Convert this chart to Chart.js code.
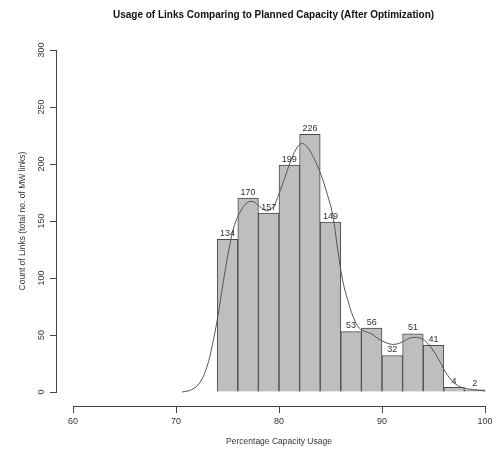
<!DOCTYPE html>
<html>
<head>
<meta charset="utf-8">
<script src="https://cdn.jsdelivr.net/npm/chart.js@4"></script>
<style>
body{margin:0;background:#fff}
#wrap{width:498px;height:449px}
</style>
</head>
<body>
<div id="wrap"><canvas id="myChart"></canvas></div>
<script>
const binStarts = [74, 76, 78, 80, 82, 84, 86, 88, 90, 92, 94, 96, 98];
const binCounts = [134, 170, 157, 199, 226, 149, 53, 56, 32, 51, 41, 4, 2];
const binWidth = 2;
const densityX = [70.6, 71.5, 72.3, 73.0, 73.5, 74.0, 74.6, 75.2, 75.7, 76.3, 76.9, 77.5, 78.1, 78.8, 79.4, 80.0, 80.6, 81.2, 81.8, 82.3, 82.9, 83.5, 84.1, 84.7, 85.2, 85.7, 86.2, 86.7, 87.2, 87.8, 88.4, 89.0, 89.6, 90.2, 90.8, 91.4, 92.0, 92.6, 93.2, 93.8, 94.4, 95.0, 95.6, 96.2, 96.9, 97.5, 98.2, 99.0, 100.0];
const densityY = [0, 2, 8, 22, 40, 63, 97, 128, 147, 159, 166, 167, 163, 159, 162, 174, 189, 204, 215, 218, 213, 203, 190, 173, 156, 125, 97, 80, 66, 56, 53, 51, 47, 44, 42, 42, 44, 47, 48, 47, 43, 36, 27, 17, 9, 5, 3, 2, 1];
const xTicks = [60, 70, 80, 90, 100];
const yTicks = [0, 50, 100, 150, 200, 250, 300];

const fontFam = "'Liberation Sans', Arial, sans-serif";
const ink = "#333";

// R style axes: lines only span the tick range, titles centred on it
const rAxes = {
    id: "rAxes",
    afterDraw(chart) {
        const c = chart.ctx;
        const xs = chart.scales.x, ys = chart.scales.y;
        const area = chart.chartArea;
        c.save();
        c.strokeStyle = "#444";
        c.lineWidth = 1;
        c.beginPath();
        const yb = Math.round(area.bottom) + 0.5;
        c.moveTo(xs.getPixelForValue(xTicks[0]), yb);
        c.lineTo(xs.getPixelForValue(xTicks[xTicks.length - 1]), yb);
        const xl = Math.round(area.left) - 0.5;
        c.moveTo(xl, ys.getPixelForValue(yTicks[0]));
        c.lineTo(xl, ys.getPixelForValue(yTicks[yTicks.length - 1]));
        c.stroke();

        c.fillStyle = ink;
        c.font = "8.5px " + fontFam;
        c.textAlign = "center";
        c.textBaseline = "middle";
        const xmid = (xs.getPixelForValue(xTicks[0]) + xs.getPixelForValue(xTicks[xTicks.length - 1])) / 2;
        c.fillText("Percentage Capacity Usage", xmid, 442);
        const ymid = (ys.getPixelForValue(yTicks[0]) + ys.getPixelForValue(yTicks[yTicks.length - 1])) / 2;
        c.translate(23, ymid);
        c.rotate(-Math.PI / 2);
        c.fillText("Count of Links (total no. of MW links)", 0, 0);
        c.restore();
    },
    afterDatasetsDraw(chart) {
        const c = chart.ctx;
        const meta = chart.getDatasetMeta(0);
        c.save();
        c.fillStyle = ink;
        c.font = "9px " + fontFam;
        c.textAlign = "center";
        c.textBaseline = "middle";
        meta.data.forEach((bar, i) => {
            c.fillText(String(binCounts[i]), bar.x, bar.y - 6);
        });
        c.restore();
    }
};

const tickFont = { family: fontFam, size: 9 };

new Chart("myChart", {
    type: "bar",
    data: {
        datasets: [{
            type: "bar",
            order: 1,
            data: binStarts.map((s, i) => ({ x: s + binWidth / 2, y: binCounts[i] })),
            backgroundColor: "#bebebe",
            borderColor: "#4a4a4a",
            borderWidth: 1,
            barPercentage: 1,
            categoryPercentage: 1
        }, {
            type: "line",
            order: 0,
            data: densityX.map((x, i) => ({ x: x, y: densityY[i] })),
            borderColor: "#555",
            borderWidth: 1,
            pointRadius: 0,
            tension: 0.4,
            fill: false
        }]
    },
    options: {
        responsive: true,
        maintainAspectRatio: false,
        animation: false,
        layout: { padding: { left: 0, right: 8, top: 0, bottom: 0 } },
        plugins: {
            legend: { display: false },
            tooltip: { enabled: false },
            title: {
                display: true,
                fullSize: false,
                text: "Usage of Links Comparing to Planned Capacity (After Optimization)",
                color: "#111",
                font: { family: fontFam, size: 10, weight: "bold" },
                padding: { top: 9, bottom: 29 }
            }
        },
        scales: {
            x: {
                type: "linear",
                min: 58.4466,
                max: 100.485,
                offset: false,
                border: { display: false },
                grid: { offset: false, drawOnChartArea: false, drawTicks: true, tickLength: 7, color: "#444" },
                ticks: { font: tickFont, color: ink, padding: 3, autoSkip: false, maxRotation: 0 },
                afterBuildTicks: s => { s.ticks = xTicks.map(v => ({ value: v })); },
                afterFit: s => { s.height = 43; }
            },
            y: {
                type: "linear",
                min: -12.28,
                max: 300,
                border: { display: false },
                grid: { drawOnChartArea: false, drawTicks: true, tickLength: 7, color: "#444" },
                ticks: { font: tickFont, color: ink, padding: 1, autoSkip: false, minRotation: 90, maxRotation: 90, crossAlign: "center" },
                afterBuildTicks: s => { s.ticks = yTicks.map(v => ({ value: v })); },
                afterFit: s => { s.width = 57; }
            }
        }
    },
    plugins: [rAxes]
});
</script>
</body>
</html>
